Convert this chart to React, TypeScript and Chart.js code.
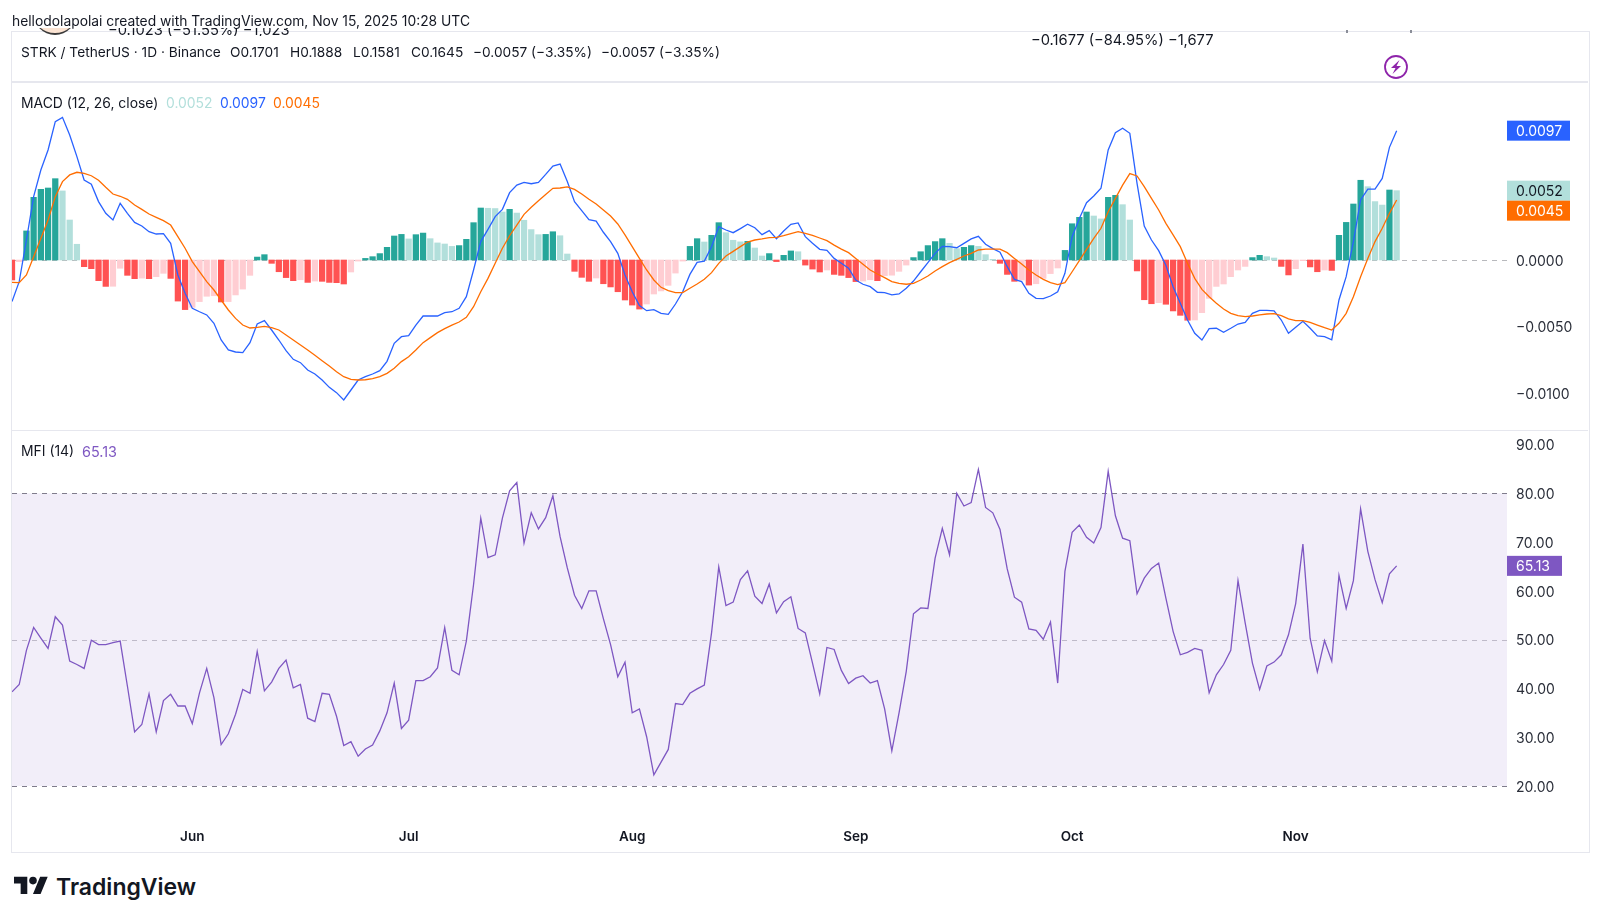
import React, { useEffect, useRef } from "react";
import { Chart, registerables } from "chart.js";

Chart.register(...registerables);

const FONT = "Inter, 'Noto Sans', sans-serif";

// Daily bars, 7 May to 15 Nov 2025
const monthLabels = ["Jun", "Jul", "Aug", "Sep", "Oct", "Nov"];
const monthBarIndex = [25, 55, 86, 117, 147, 178];
const xMaxBars = 207.3;

const macdLine = [
  -0.00312,-0.00162,0.0015,0.00475,0.00675,0.00825,0.01038,0.0107,0.00938,0.00775,
  0.006,0.00568,0.00438,0.0035,0.003,0.00425,0.0035,0.00282,0.00255,0.00212,
  0.00195,0.00198,0.00125,-0.00112,-0.0025,-0.00362,-0.00388,-0.00412,-0.00475,-0.006,
  -0.00675,-0.0069,-0.00695,-0.0062,-0.0048,-0.00455,-0.00525,-0.006,-0.0068,-0.00745,
  -0.0077,-0.00825,-0.00855,-0.009,-0.00955,-0.00995,-0.0105,-0.00975,-0.009,-0.00875,
  -0.00855,-0.0083,-0.0076,-0.00625,-0.00575,-0.00568,-0.00488,-0.0042,-0.0042,-0.0042,
  -0.00395,-0.00388,-0.00362,-0.00275,-0.00075,0.00138,0.0023,0.00325,0.0038,0.00505,
  0.00562,0.00582,0.00572,0.00582,0.00642,0.00705,0.0072,0.00588,0.00438,0.0037,
  0.00302,0.00292,0.00208,0.00138,0.0005,-0.00112,-0.00238,-0.00342,-0.0038,-0.00372,
  -0.004,-0.00408,-0.0033,-0.00238,-0.00108,-0.00018,-0.00008,0.001,0.0025,0.00225,
  0.00205,0.00235,0.00268,0.00242,0.0019,0.0022,0.0016,0.00218,0.00268,0.00278,
  0.00175,0.00125,0.0008,0.00072,0.00012,-0.00025,-0.00062,-0.0015,-0.00182,-0.002,
  -0.00242,-0.00245,-0.00262,-0.00255,-0.00212,-0.00158,-0.00088,-0.0002,0.0005,0.00102,
  0.001,0.00092,0.00125,0.00158,0.00178,0.00118,0.00085,0.00058,-0.0005,-0.00145,
  -0.00162,-0.0025,-0.00288,-0.0029,-0.0027,-0.00238,-0.001,0.00175,0.00312,0.0043,
  0.0048,0.00538,0.00825,0.00955,0.00988,0.0095,0.00575,0.00255,0.0015,0.0007,
  -0.0004,-0.002,-0.00325,-0.0045,-0.0055,-0.006,-0.00515,-0.00512,-0.00542,-0.00512,
  -0.0048,-0.00468,-0.004,-0.00378,-0.00378,-0.00382,-0.0045,-0.0055,-0.00505,-0.0046,
  -0.00512,-0.0057,-0.00575,-0.00598,-0.003,-0.00125,0.00138,0.0045,0.00532,0.00532,
  0.00612,0.00845,0.0097,
];

const signalLine = [
  -0.00168,-0.0017,-0.00112,0.00025,0.00162,0.003,0.00475,0.00588,0.00638,0.00658,
  0.0065,0.00632,0.00598,0.00545,0.00495,0.00478,0.00455,0.00412,0.0038,0.00345,
  0.0032,0.00295,0.00262,0.00175,0.00088,-0.00012,-0.00088,-0.00162,-0.00225,-0.003,
  -0.00375,-0.00438,-0.00488,-0.0051,-0.00505,-0.00498,-0.00508,-0.00525,-0.00562,-0.006,
  -0.00638,-0.00675,-0.00715,-0.00755,-0.00795,-0.00838,-0.00875,-0.00895,-0.009,-0.00898,
  -0.0089,-0.00875,-0.0085,-0.00812,-0.00762,-0.00725,-0.00675,-0.0062,-0.00582,-0.00545,
  -0.00515,-0.00488,-0.00465,-0.0043,-0.0035,-0.00238,-0.00138,-0.00025,0.00088,0.00182,
  0.00262,0.00342,0.00395,0.00445,0.00492,0.00538,0.0054,0.00548,0.0053,0.00495,
  0.00455,0.0042,0.00375,0.0033,0.0027,0.00188,0.001,0.00012,-0.00075,-0.0015,
  -0.00205,-0.0023,-0.00245,-0.00245,-0.00212,-0.0018,-0.00145,-0.00095,-0.00025,0.0003,
  0.00065,0.001,0.00135,0.0015,0.00158,0.00168,0.0017,0.00182,0.00198,0.00212,
  0.002,0.00185,0.00165,0.00145,0.00112,0.00082,0.00055,0.00012,-0.00032,-0.00075,
  -0.00105,-0.00132,-0.00162,-0.00175,-0.00182,-0.00175,-0.0015,-0.0012,-0.00082,-0.0005,
  -0.0002,0.00005,0.0003,0.0005,0.00075,0.00082,0.00082,0.00082,0.00055,0.00012,
  -0.0003,-0.00075,-0.00112,-0.00145,-0.0017,-0.00185,-0.0017,-0.00088,-0.00005,0.0008,
  0.00162,0.00238,0.00362,0.00462,0.00562,0.00648,0.0063,0.0055,0.00462,0.00375,
  0.00275,0.00188,0.001,-0.00025,-0.00138,-0.0022,-0.00275,-0.00325,-0.00368,-0.004,
  -0.00418,-0.00425,-0.0042,-0.00412,-0.00405,-0.00402,-0.00418,-0.00442,-0.00455,-0.00455,
  -0.00468,-0.00488,-0.00508,-0.00525,-0.00475,-0.004,-0.00275,-0.00125,0.00012,0.00138,
  0.00238,0.0035,0.0045,
];

const macdHistogram = [
  -0.0015,-0.00012,0.00218,0.0047,0.0053,0.0054,0.0061,0.00518,0.003,0.00118,
  -0.0005,-0.00065,-0.00155,-0.00198,-0.00197,-0.00062,-0.00115,-0.0014,-0.00136,-0.0014,
  -0.00125,-0.001,-0.00138,-0.00308,-0.00372,-0.00355,-0.00312,-0.00272,-0.00268,-0.00315,
  -0.00312,-0.00262,-0.00218,-0.00115,0.00022,0.0004,-0.00025,-0.00088,-0.00132,-0.00155,
  -0.00148,-0.00168,-0.00158,-0.0016,-0.00168,-0.0017,-0.0018,-0.0009,-0.00008,0.00012,
  0.00025,0.00048,0.00095,0.0018,0.00192,0.00158,0.0019,0.00202,0.0016,0.00128,
  0.0012,0.00102,0.00108,0.00155,0.0028,0.0039,0.00388,0.00386,0.0036,0.0038,
  0.00352,0.00298,0.00228,0.0019,0.00192,0.00212,0.00182,0.00045,-0.00085,-0.0013,
  -0.0016,-0.00135,-0.00178,-0.00202,-0.00238,-0.003,-0.00338,-0.00368,-0.0033,-0.00255,
  -0.00232,-0.0019,-0.00098,-0.00008,0.00102,0.0016,0.00135,0.00185,0.0028,0.00205,
  0.00148,0.00136,0.0014,0.0009,0.0003,0.00048,-0.00012,0.00035,0.00068,0.00062,
  -0.00038,-0.00068,-0.0009,-0.00075,-0.00108,-0.00115,-0.00132,-0.00162,-0.00158,-0.00148,
  -0.00155,-0.00117,-0.00114,-0.00085,-0.00038,0.00018,0.00062,0.00108,0.00138,0.0016,
  0.00125,0.00085,0.00095,0.00108,0.00102,0.0004,0.00005,-0.00025,-0.00108,-0.0016,
  -0.0015,-0.00188,-0.00178,-0.00138,-0.00102,-0.0006,0.00072,0.00272,0.0032,0.0036,
  0.0033,0.00308,0.0047,0.00485,0.00415,0.003,-0.00082,-0.00298,-0.00328,-0.0032,
  -0.00332,-0.00382,-0.00415,-0.00452,-0.0045,-0.00395,-0.00288,-0.00198,-0.0018,-0.00125,
  -0.00075,-0.00048,0.00018,0.00035,0.00025,0.00015,-0.00048,-0.00112,-0.00065,-0.00005,
  -0.00052,-0.00088,-0.00075,-0.00078,0.00185,0.00282,0.0042,0.00598,0.0055,0.00438,
  0.00412,0.00525,0.0052,
];

const mfiValues = [
  39.3,40.8,47.8,52.5,50.3,48.2,54.7,53.0,45.6,44.9,
  44.1,49.9,49.0,49.0,49.4,49.7,40.5,31.1,32.6,38.9,
  31.1,37.5,38.8,36.4,36.4,32.8,39.1,44.1,38.1,28.5,
  30.7,34.7,39.8,39.0,47.6,39.5,41.3,44.1,45.8,40.1,
  40.8,33.9,33.2,39.0,38.8,34.3,28.3,29.1,26.1,27.6,
  28.4,31.3,35.0,41.1,31.8,33.5,41.6,41.6,42.4,44.2,
  52.5,43.7,42.8,49.7,61.3,74.9,66.8,67.4,74.9,80.5,
  82.2,69.8,76.0,72.7,75.0,79.5,71.1,64.7,59.1,56.4,
  60.0,60.0,54.3,49.0,42.4,45.4,35.0,35.8,30.1,22.3,
  24.9,27.5,36.9,36.7,39.0,39.9,40.7,51.4,64.9,57.0,
  57.7,62.3,64.1,58.9,57.4,61.4,55.5,57.8,58.8,52.3,
  51.4,45.2,38.9,48.4,48.0,43.7,41.0,42.1,42.6,41.1,
  41.6,35.8,27.2,35.0,43.5,55.3,56.5,56.4,66.7,72.8,
  67.4,80.0,77.4,78.1,84.9,77.1,76.0,72.6,64.5,58.7,
  57.7,52.2,51.9,50.1,53.6,41.1,64.0,72.0,73.5,71.0,
  69.8,73.0,84.5,75.4,70.8,70.3,59.4,62.6,64.6,65.7,
  58.5,51.7,46.9,47.4,48.2,47.8,39.1,42.8,44.9,47.8,
  62.1,53.4,45.2,39.8,44.6,45.4,46.9,51.0,57.4,69.6,
  50.3,43.4,49.8,45.6,63.2,56.4,62.1,76.8,68.1,62.3,
  57.6,63.5,65.13,
];

const macdTicks = [-0.01, -0.005, 0];
const mfiTicks = [20, 30, 40, 50, 60, 70, 80, 90];
const mfiBands = [80, 50, 20];

const points = (arr: number[]) => arr.map((y, x) => ({ x, y }));

const histColor = (ctx: any) => {
  const i = ctx.dataIndex;
  const v = macdHistogram[i];
  const p = i > 0 ? macdHistogram[i - 1] : 0;
  if (v >= 0) return v >= p ? "#26a69a" : "#b2dfdb";
  return v <= p ? "#ff5252" : "#ffcdd2";
};

const priceLabel = (
  ctx: CanvasRenderingContext2D,
  y: number,
  text: string,
  bg: string,
  fg: string,
  left: number,
  width: number
) => {
  ctx.save();
  ctx.fillStyle = bg;
  ctx.fillRect(left, y - 10, width, 20);
  ctx.fillStyle = fg;
  ctx.font = `14px ${FONT}`;
  ctx.textAlign = "left";
  ctx.textBaseline = "middle";
  ctx.fillText(text, left + 9, y + 1);
  ctx.restore();
};

const macdPlugin = {
  id: "macdDecor",
  beforeDatasetsDraw(chart: any) {
    const { ctx, chartArea, scales } = chart;
    const y = Math.round(scales.y.getPixelForValue(0)) + 0.5;
    ctx.save();
    ctx.strokeStyle = "#b8b9bd";
    ctx.lineWidth = 1;
    ctx.setLineDash([5, 5]);
    ctx.beginPath();
    ctx.moveTo(chartArea.left, y);
    ctx.lineTo(chartArea.right, y);
    ctx.stroke();
    ctx.restore();
  },
  afterDraw(chart: any) {
    const { ctx, chartArea, scales } = chart;
    const n = macdLine.length - 1;
    const left = chartArea.right;
    const yM = scales.y.getPixelForValue(macdLine[n]);
    const yH = scales.y.getPixelForValue(macdHistogram[n]);
    const yS = Math.max(scales.y.getPixelForValue(signalLine[n]), yH + 20);
    priceLabel(ctx, yM, macdLine[n].toFixed(4), "#2962ff", "#ffffff", left, 63);
    priceLabel(ctx, yH, macdHistogram[n].toFixed(4), "#b2dfdb", "#131722", left, 63);
    priceLabel(ctx, yS, signalLine[n].toFixed(4), "#ff6d00", "#ffffff", left, 63);
  },
};

const mfiPlugin = {
  id: "mfiDecor",
  beforeDatasetsDraw(chart: any) {
    const { ctx, chartArea, scales } = chart;
    const top = scales.y.getPixelForValue(mfiBands[0]);
    const bottom = scales.y.getPixelForValue(mfiBands[2]);
    ctx.save();
    ctx.fillStyle = "rgba(126,87,194,0.1)";
    ctx.fillRect(chartArea.left, top, chartArea.right - chartArea.left, bottom - top);
    ctx.lineWidth = 1;
    ctx.setLineDash([5, 5]);
    mfiBands.forEach((v) => {
      const y = Math.round(scales.y.getPixelForValue(v)) + 0.5;
      ctx.strokeStyle = v === 50 ? "#bfbac9" : "#7f7c8c";
      ctx.beginPath();
      ctx.moveTo(chartArea.left, y);
      ctx.lineTo(chartArea.right, y);
      ctx.stroke();
    });
    ctx.restore();
  },
  afterDraw(chart: any) {
    const { ctx, chartArea, scales } = chart;
    const v = mfiValues[mfiValues.length - 1];
    priceLabel(ctx, scales.y.getPixelForValue(v), v.toFixed(2), "#7e57c2", "#ffffff", chartArea.right, 55);
  },
};

const axisTick = {
  color: "#2a2e39",
  font: { family: FONT, size: 14 },
  padding: 9,
  crossAlign: "near" as const,
  labelOffset: 1.5,
};
const legendOff = { legend: { display: false }, tooltip: { enabled: false } };

const fmtMacd = (v: any) => {
  const n = Number(v);
  return (n < 0 ? "\u2212" : "") + Math.abs(n).toFixed(4);
};

// Keep the plot area exactly where the layout padding puts it.
const fitY = (s: any) => {
  s.width = 93;
  s.paddingTop = 0;
  s.paddingBottom = 0;
};

const Txt = ({ x, y, color, size, weight, children }: any) => (
  <span
    style={{
      position: "absolute",
      left: x,
      top: y,
      transform: "translateY(-50%)",
      whiteSpace: "pre",
      color: color || "#131722",
      fontSize: size || 13.9,
      fontWeight: weight || 400,
      lineHeight: 1,
    }}
  >
    {children}
  </span>
);

export default function App() {
  const macdRef = useRef<HTMLCanvasElement>(null);
  const mfiRef = useRef<HTMLCanvasElement>(null);

  useEffect(() => {
    const macdChart = new Chart(macdRef.current!, {
      type: "bar",
      data: {
        datasets: [
          {
            type: "line",
            data: points(signalLine),
            borderColor: "#ff6d00",
            borderWidth: 1.3,
            pointRadius: 0,
            tension: 0,
            order: 0,
          },
          {
            type: "line",
            data: points(macdLine),
            borderColor: "#2962ff",
            borderWidth: 1.3,
            pointRadius: 0,
            tension: 0,
            order: 1,
          },
          {
            type: "bar",
            data: points(macdHistogram),
            backgroundColor: histColor,
            barThickness: 5.6,
            order: 2,
          },
        ],
      } as any,
      options: {
        responsive: false,
        animation: false,
        layout: { padding: { left: 12, top: 82, right: 0, bottom: 0 } },
        plugins: legendOff,
        scales: {
          x: { type: "linear", min: 0, max: xMaxBars, display: false, offset: false, grid: { display: false } },
          y: {
            position: "right",
            min: -0.01275,
            max: 0.01335,
            grid: { display: false, drawTicks: false },
            border: { display: false },
            ticks: { ...axisTick, callback: fmtMacd },
            afterBuildTicks: (s: any) => {
              s.ticks = macdTicks.map((value) => ({ value }));
            },
            afterFit: fitY,
          },
        },
      } as any,
      plugins: [macdPlugin],
    });

    const mfiChart = new Chart(mfiRef.current!, {
      type: "line",
      data: {
        datasets: [
          {
            data: points(mfiValues),
            borderColor: "#7e57c2",
            borderWidth: 1.3,
            pointRadius: 0,
            tension: 0,
          },
        ],
      } as any,
      options: {
        responsive: false,
        animation: false,
        layout: { padding: { left: 12, top: 0, right: 0, bottom: 0 } },
        plugins: legendOff,
        scales: {
          x: {
            type: "linear",
            min: 0,
            max: xMaxBars,
            offset: false,
            grid: { display: false, drawTicks: false },
            border: { display: false },
            ticks: {
              autoSkip: false,
              maxRotation: 0,
              color: "#131722",
              font: { family: FONT, size: 13.5, weight: "600" },
              padding: 19,
              callback: (v: any) => monthLabels[monthBarIndex.indexOf(Number(v))] ?? "",
            },
            afterBuildTicks: (s: any) => {
              s.ticks = monthBarIndex.map((value) => ({ value }));
            },
            afterFit: (s: any) => {
              s.height = 41;
              s.paddingLeft = 0;
              s.paddingRight = 0;
            },
          },
          y: {
            position: "right",
            min: 15.08,
            max: 92.98,
            grid: { display: false, drawTicks: false },
            border: { display: false },
            ticks: { ...axisTick, callback: (v: any) => Number(v).toFixed(2) },
            afterBuildTicks: (s: any) => {
              s.ticks = mfiTicks.map((value) => ({ value }));
            },
            afterFit: fitY,
          },
        },
      } as any,
      plugins: [mfiPlugin],
    });

    return () => {
      macdChart.destroy();
      mfiChart.destroy();
    };
  }, []);

  const line = "#e6e7ee";
  return (
    <div
      style={{
        position: "absolute",
        left: 0,
        top: 0,
        width: 1600,
        height: 921,
        overflow: "hidden",
        background: "#ffffff",
        fontFamily: FONT,
      }}
    >
      <canvas ref={macdRef} width={1600} height={430} style={{ position: "absolute", left: 0, top: 0 }} />
      <canvas ref={mfiRef} width={1600} height={421} style={{ position: "absolute", left: 0, top: 430 }} />

      {/* pane frame */}
      <div style={{ position: "absolute", left: 11, top: 31, width: 1577, height: 820, border: `1px solid ${line}`, pointerEvents: "none" }} />
      <div style={{ position: "absolute", left: 11, top: 81, width: 1577, height: 2, background: line }} />
      <div style={{ position: "absolute", left: 11, top: 430, width: 1577, height: 1, background: line }} />

      {/* clipped study values under the white header */}
      <div style={{ position: "absolute", left: 33, top: 28, width: 46, height: 7, overflow: "hidden" }}>
        <div style={{ position: "absolute", left: 0, top: -39, width: 44, height: 44, borderRadius: "50%", background: "#fbe3d2", borderBottom: "2px solid #3a3a3a" }} />
      </div>
      <div style={{ position: "absolute", left: 108, top: 28, width: 200, height: 8, overflow: "hidden" }}>
        <span style={{ position: "absolute", left: 0, top: -7, whiteSpace: "pre", fontSize: 14.7, color: "#131722" }}>{"\u22120.1023 (\u221251.55%) \u22121,023"}</span>
      </div>
      <div style={{ position: "absolute", left: 1346, top: 30, width: 2, height: 3, background: "#8b8e98" }} />
      <div style={{ position: "absolute", left: 1410, top: 30, width: 2, height: 3, background: "#8b8e98" }} />

      <Txt x={12} y={22} size={13.85}>hellodolapolai created with TradingView.com, Nov 15, 2025 10:28 UTC</Txt>
      <Txt x={21} y={53} size={13.73}>{"STRK / TetherUS \u00b7 1D \u00b7 Binance"}</Txt>
      <Txt x={230} y={53} size={13.7}>O0.1701</Txt>
      <Txt x={290} y={53} size={13.7}>H0.1888</Txt>
      <Txt x={353} y={53} size={13.7}>L0.1581</Txt>
      <Txt x={411} y={53} size={13.7}>C0.1645</Txt>
      <Txt x={473} y={53} size={13.7}>{"\u22120.0057 (\u22123.35%)"}</Txt>
      <Txt x={601} y={53} size={13.7}>{"\u22120.0057 (\u22123.35%)"}</Txt>
      <Txt x={1031} y={40} size={14.7}>{"\u22120.1677 (\u221284.95%) \u22121,677"}</Txt>

      <Txt x={21} y={104}>MACD (12, 26, close)</Txt>
      <Txt x={166} y={104} color="#b2dfdb">0.0052</Txt>
      <Txt x={220} y={104} color="#2962ff">0.0097</Txt>
      <Txt x={273} y={104} color="#ff6d00">0.0045</Txt>

      <Txt x={21} y={452}>MFI (14)</Txt>
      <Txt x={82} y={452} color="#7e57c2" size={14.4}>65.13</Txt>

      {/* lightning marker */}
      <svg style={{ position: "absolute", left: 1384, top: 55 }} width={24} height={24} viewBox="0 0 24 24">
        <circle cx={12} cy={12} r={11} fill="none" stroke="#8e24aa" strokeWidth={1.8} />
        <path d="M15.5 5 L7 13 H11.5 L8.5 19 L17 11 H12.5 Z" fill="#8e24aa" />
      </svg>

      {/* TradingView wordmark */}
      <svg style={{ position: "absolute", left: 14, top: 873 }} width={34.2} height={26.6} viewBox="0 0 36 28">
        <path d="M14 22H7V11H0V4h14v18zM28 22h-8l7.5-18h8L28 22z" fill="#131722" />
        <circle cx={20} cy={8} r={4} fill="#131722" />
      </svg>
      <Txt x={56} y={887} size={23} weight={600}>TradingView</Txt>
    </div>
  );
}
